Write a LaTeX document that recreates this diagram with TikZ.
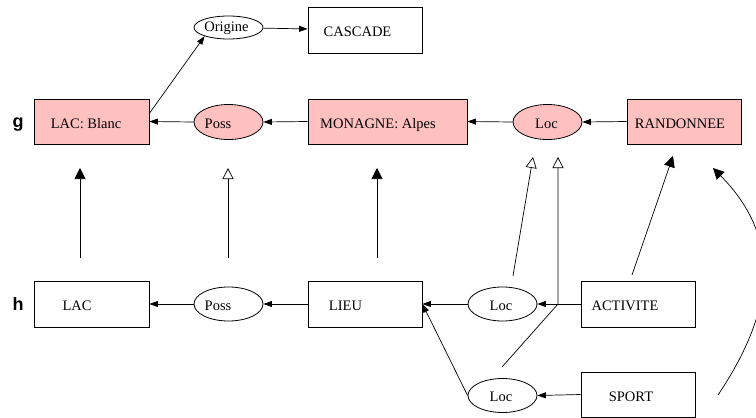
\documentclass[tikz,border=0pt]{standalone}
\usepackage{fontspec}
\setmainfont{Liberation Serif}
\newfontfamily\lblfont{Liberation Sans}
\usetikzlibrary{arrows.meta,shapes.geometric}
\definecolor{pinkfill}{RGB}{255,192,192}
\begin{document}
\begin{tikzpicture}[x=1pt,y=-1pt,
  every node/.style={inner sep=0pt},
  box/.style={draw, line width=0.8pt, minimum width=114pt, minimum height=45pt},
  oval/.style={draw, ellipse, line width=0.8pt, minimum width=69pt, minimum height=34pt},
  pinkbox/.style={fill=pinkfill},
  txt/.style={anchor=base, font=\fontsize{14.5}{17}\selectfont},
  side/.style={anchor=base, font=\lblfont\bfseries\fontsize{18}{20}\selectfont},
  small/.style={draw, line width=0.7pt, -{Triangle[length=8.5pt,width=6pt]}},
  big/.style={draw, line width=0.7pt, -{Triangle[length=11pt,width=11pt]}},
  open/.style={draw, line width=0.7pt, -{Triangle[open,length=11pt,width=11pt]}}
]
\useasboundingbox (0,0) rectangle (756,418);

% side labels
\node[side] (g) at (18,127) {g};
\node[side] (h) at (18,310) {h};

% g row
\node[box,pinkbox,minimum width=115pt] (lacb) at (91.5,121.5) {};
\node[txt] (lacbt) at (86,128) {LAC: Blanc};
\node[oval,pinkbox,minimum height=35pt] (possg) at (228.5,122) {};
\node[txt] (possgt) at (218,128) {Poss};
\node[box,pinkbox,minimum width=159pt] (mon) at (387.5,121.5) {};
\node[txt] (mont) at (378,128) {MONAGNE: Alpes};
\node[oval,pinkbox,minimum height=35pt] (locg) at (547.5,122) {};
\node[txt] (locgt) at (546.5,128) {Loc};
\node[box,pinkbox] (rand) at (684,121.5) {};
\node[txt] (randt) at (680,128) {RANDONNEE};

% top
\node[oval,minimum height=23pt] (orig) at (228.5,27.5) {};
\node[txt] (origt) at (226.5,31) {Origine};
\node[box,minimum height=46pt] (casc) at (365,30) {};
\node[txt] (casct) at (357.5,36.5) {CASCADE};

% h row
\node[box,minimum width=115pt,minimum height=46pt] (lac) at (91.5,304) {};
\node[txt] (lact) at (77,310) {LAC};
\node[oval] (possh) at (228.5,304) {};
\node[txt] (posst) at (218,310) {Poss};
\node[box,minimum height=46pt] (lieu) at (365,304) {};
\node[txt] (lieut) at (345.5,310) {LIEU};
\node[oval] (loch) at (502.5,304) {};
\node[txt] (locht) at (501,310) {Loc};
\node[box,minimum height=46pt] (act) at (638,304) {};
\node[txt] (actt) at (625,310) {ACTIVITE};
\node[oval] (locl) at (502.5,395.5) {};
\node[txt] (loclt) at (501,401.5) {Loc};
\node[box] (sport) at (638,394.5) {};
\node[txt] (sportt) at (631,401) {SPORT};

% g row edges
\draw[small] (mon.west) -- (possg.east);
\draw[small] (possg.west) -- (lacb.east);
\draw[small] (rand.west) -- (locg.east);
\draw[small] (locg.west) -- (mon.east);
\draw[small] (lacb.8) -- (orig.200);
\draw[small] (orig) -- (casc);

% h row edges
\draw[small] (lieu.west) -- (possh.east);
\draw[small] (possh.west) -- (lac.east);
\draw[small] (act.west) -- (loch.east);
\draw[small] (loch.west) -- (lieu.east);
\draw[small] (sport.west) -- (locl.east);
\draw[small] (locl.west) -- (lieu.east);

% inter-layer links
\coordinate (a1s) at (80,258);   \coordinate (a1e) at (80,168);
\coordinate (a2s) at (228,258);  \coordinate (a2e) at (228,168);
\coordinate (a3s) at (377,258);  \coordinate (a3e) at (377,168);
\draw[big] (a1s) -- (a1e);
\draw[open] (a2s) -- (a2e);
\draw[big] (a3s) -- (a3e);

\coordinate (b1s) at (513,276);  \coordinate (b1e) at (533,157);
\draw[open] (b1s) -- (b1e);
\coordinate (b2s) at (502,367);  \coordinate (b2m) at (558,304);  \coordinate (b2e) at (558,157);
\draw[open] (b2s) -- (b2m) -- (b2e);

\coordinate (c1s) at (632,275);  \coordinate (c1e) at (673,156);
\draw[big] (c1s) -- (c1e);

\coordinate (d1s) at (718,395);  \coordinate (d1e) at (713,168);
\draw[big] (d1s) .. controls (775,310) and (782,238) .. (d1e);
\end{tikzpicture}
\end{document}
